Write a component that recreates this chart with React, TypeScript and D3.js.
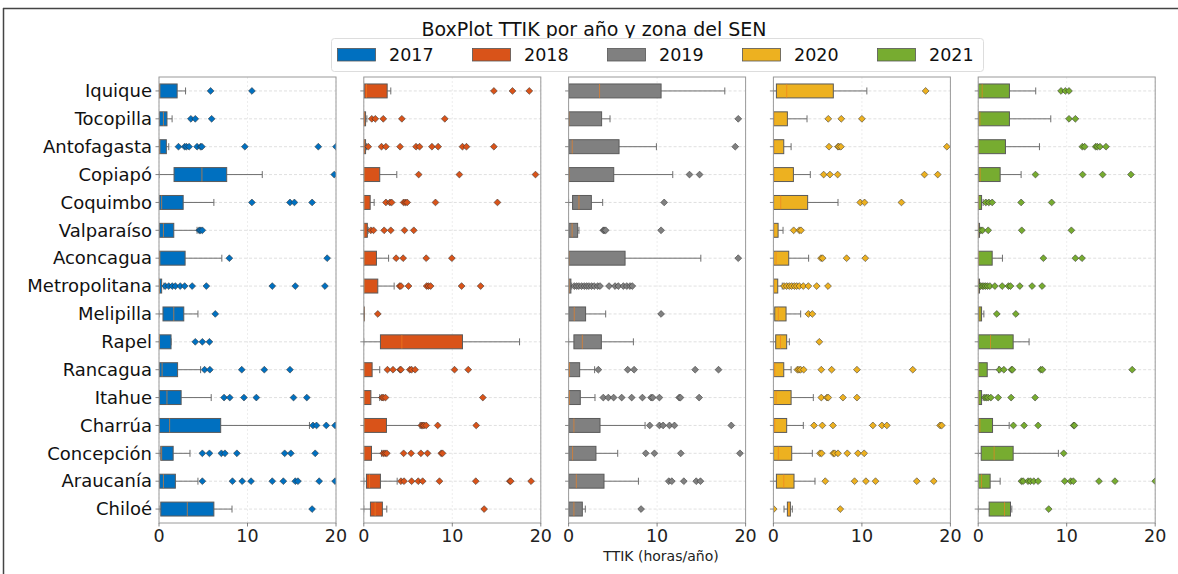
import React from "react";
import * as d3 from "d3";

const regions = ["Iquique","Tocopilla","Antofagasta","Copiapó","Coquimbo","Valparaíso","Aconcagua","Metropolitana","Melipilla","Rapel","Rancagua","Itahue","Charrúa","Concepción","Araucanía","Chiloé"];
const years = ["2017","2018","2019","2020","2021"];
const yearColors = ["#0070C0","#D95319","#808080","#EDB120","#77AC30"];
const xTicks = [0, 10, 20];

// [lowWhisker, q1, median, q3, highWhisker] per region
const stats2017 = [
  [0,0.05,0.1,2.05,3.0],[0,0.05,0.5,0.9,1.48],[0,0.05,0.1,0.83,1.1],[0,1.7,4.85,7.65,11.67],
  [0,0.05,0.3,2.73,6.2],[0,0.05,0.5,1.67,4.3],[0,0.05,0.1,2.95,7.1],[0,0,0.05,0.3,0.55],
  [0,0.45,1.67,2.8,4.4],[0,0,0.05,1.36,1.36],[0,0.05,0.35,2.1,4.7],[0,0.05,0.9,2.5,5.9],
  [0,0.05,1.2,6.97,17.0],[0,0.2,0.3,1.6,3.5],[0,0.05,0.5,1.85,4.4],[0,0.2,3.2,6.2,8.25]
];
const fliers2017 = [
  [5.83,10.5],[3.6,4.1,5.95],[2.2,2.9,3.1,3.4,4.3,4.7,4.85,9.7,18.0,20.0],[19.8],
  [10.5,14.8,15.3,17.3],[4.55,4.7,4.9],[7.95,19.0],[0.7,1.1,1.5,1.85,2.4,2.9,3.75,5.35,12.8,15.4,18.75],
  [6.36],[4.1,4.9,5.7],[5.15,5.75,9.35,11.9,14.8],[7.35,8.0,9.6,11.0,15.2,16.7],
  [17.4,17.8,18.9,19.9],[4.9,5.7,7.05,7.45,8.8,14.2,14.9,17.65],[4.9,8.3,9.4,10.4,12.8,14.05,15.4,15.7,18.1,19.9],[17.3]
];

const stats2018 = [
  [0,0.05,0.3,2.64,3.05],[0,0,0.05,0.2,0.35],[0,0,0.05,0.2,0.3],[0,0.02,0.05,1.8,3.73],
  [0,0.02,0.05,0.72,1.17],[0,0.02,0.05,0.4,0.5],[0,0.02,0.05,1.43,2.8],[0,0.02,0.05,1.58,3.43],
  [0,0,0,0,0],[0,1.88,4.3,11.15,17.6],[0,0.02,0.05,0.94,1.8],[0,0.02,0.05,0.8,1.8],
  [0,0.02,0.05,2.56,6.36],[0,0.02,0.05,0.87,2.0],[0,0.3,0.65,1.88,3.77],[0,0.75,1.28,2.1,2.6]
];
const fliers2018 = [
  [14.7,16.8,18.7],[0.9,1.3,2.2,4.3,9.15],[0.5,2.0,2.5,4.1,5.9,6.3,7.7,8.4,11.15,11.6,14.7],[6.2,10.8,19.4],
  [2.5,2.95,3.15,4.5,4.7,4.9,8.1,15.1],[0.8,1.1,2.3,3.05,4.6,5.65],[3.65,4.45,7.05,9.95],[4.05,4.2,5.05,7.1,7.3,7.55,11.05,13.2],
  [1.58],[],[2.67,3.3,4.1,4.2,5.2,5.4,5.8,10.25,11.8],[2.05,2.2,2.45,13.45],
  [6.5,6.65,6.8,7.05,8.35,12.7],[2.2,2.4,2.6,4.5,5.35,6.45,7.2,8.75,8.9],[4.2,4.55,5.4,6.15,6.65,8.55,12.65,16.5,16.6,18.9],[13.6]
];

const stats2019 = [
  [0,0.02,3.5,10.45,17.65],[0,0.02,0.03,3.73,4.68],[0,0.02,0.41,5.7,9.92],[0,0.02,0.03,5.1,11.77],
  [0,0.45,1.17,2.57,3.85],[0,0.02,0.4,1.02,1.17],[0,0.02,0.03,6.38,14.94],[0,0,0.05,0.26,0.35],
  [0,0.02,0.64,1.92,4.19],[0,0.6,1.55,3.7,7.32],[0,0.02,0.1,1.25,2.94],[0,0.02,0.1,1.32,2.98],
  [0,0.02,0.6,3.55,8.64],[0,0.02,0.45,3.09,5.55],[0,0.02,0.87,4.0,7.89],[0,0.02,0.6,1.55,1.89]
];
const fliers2019 = [
  [],[19.17],[18.83],[13.66,14.8],
  [10.8],[3.92,4.04,4.19,10.45],[19.17],[0.64,0.91,1.17,1.47,1.77,2.04,2.3,2.6,2.9,3.28,3.55,4.57,5.25,5.62,6.19,6.57,6.94,7.2],
  [10.45],[],[3.36,6.68,7.4,14.3,16.94],[3.92,4.49,5.09,6.0,7.13,8.34,9.32,9.51,10.26,12.49,12.64,14.75],
  [9.17,10.26,10.68,11.4,11.96,18.38],[8.72,9.7,12.68,19.36],[11.32,11.66,13.02,14.42,14.9],[8.19]
];

const stats2020 = [
  [0,0.34,1.5,6.77,10.56],[0,0.02,0.05,1.58,3.8],[0,0.02,0.05,1.17,2.0],[0,0.02,0.05,2.26,4.17],
  [0,0.02,0.83,3.87,7.3],[0,0.02,0.05,0.53,1.09],[0,0.02,0.3,1.73,3.98],[0,0.02,0.05,0.49,1.0],
  [0,0.15,0.56,1.43,3.08],[0,0.26,0.8,1.5,1.8],[0,0.02,0.15,1.17,2.0],[0,0.02,0.3,2.0,4.51],
  [0,0.02,0.15,1.5,3.38],[0,0.02,0.56,2.07,4.4],[0,0.34,1.17,2.33,4.7],[1.2,1.58,1.77,1.92,2.14]
];
const fliers2020 = [
  [17.2],[6.2,7.67,10.0],[6.28,7.3,7.4,7.63,19.6],[5.68,6.39,7.26,17.07,18.57],
  [9.81,10.3,14.47],[2.29,2.93,3.12],[5.38,5.56,8.27,10.38],[1.2,1.5,1.8,2.07,2.37,2.63,2.93,3.38,3.95,4.89,6.17],
  [3.95,4.4],[5.19],[2.71,2.89,3.08,3.42,5.41,6.58,9.44,15.75],[5.41,6.05,6.2,7.86,9.44],
  [4.59,5.53,6.73,11.24,12.26,12.82,18.83,19.02],[5.26,5.45,6.77,6.92,7.3,8.35,9.55,10.26],[5.86,9.17,10.45,11.54,16.2,18.12],[0.04,7.56]
];

const stats2021 = [
  [0,0.02,0.45,3.53,6.5],[0,0.02,0.19,3.53,8.2],[0,0.02,0.05,3.08,6.92],[0,0.02,0.22,2.48,4.85],
  [0,0.02,0.05,0.38,0.56],[0,0,0.02,0.15,0.2],[0,0.02,0.05,1.58,2.74],[0,0,0.02,0.15,0.2],
  [0,0.02,0.19,0.38,0.64],[0,0.02,1.39,3.95,5.75],[0,0.02,0.05,1.02,2.29],[0,0.02,0.05,0.38,0.56],
  [0,0.02,0.19,1.62,3.5],[0,0.34,1.8,3.95,9.06],[0,0.02,0.38,1.35,2.48],[0,1.24,2.97,3.65,3.8]
];
const fliers2021 = [
  [9.36,9.85,10.26],[10.26,10.98],[11.77,12.03,13.27,13.46,13.76,14.44],[6.47,11.8,14.06,17.26],
  [0.86,1.2,1.58,4.85,8.3],[0.3,0.49,1.13,4.92,10.53],[7.37,10.98,11.73],[0.26,0.45,0.64,0.83,1.05,1.32,1.88,2.71,3.42,3.65,4.7,6.09,7.22],
  [2.1,4.25],[],[2.4,2.9,3.76,3.87,7.07,7.26,17.4],[0.75,0.94,1.13,1.43,2.26,3.72,6.43],
  [3.98,5.19,6.77,10.79,10.87],[9.66],[4.89,5.08,5.64,5.9,6.28,6.77,9.77,10.45,10.75,13.65,15.45,20.0],[7.97]
];

const allStats = [stats2017, stats2018, stats2019, stats2020, stats2021];
const allFliers = [fliers2017, fliers2018, fliers2019, fliers2020, fliers2021];

const W = 1178, H = 574;
const FONT = "DejaVu Sans, sans-serif";
const panelLeft0 = 159, panelStep = 204.8, panelW = 177;
const top = 77, bottom = 523;

export default function App() {
  const y = d3.scaleLinear().domain([0.5, 16.5]).range([top, bottom]);
  const half = (y(1.25) - y(1)) ;
  const capHalf = half / 2;
  const diamond = d3.symbol().type(d3.symbolDiamond2).size(30)();

  return (
    <svg width={W} height={H} style={{ position: "absolute", left: 0, top: 0, background: "#fff" }} fontFamily={FONT}>
      <rect x={0} y={0} width={W} height={H} fill="#fff" />
      <line x1={3} x2={W} y1={8.5} y2={8.5} stroke="#444" strokeWidth={1.5} />
      <line x1={3.5} x2={3.5} y1={8} y2={H} stroke="#444" strokeWidth={1.5} />
      <text x={594} y={36} textAnchor="middle" fontSize={19} fill="#111">BoxPlot TTIK por año y zona del SEN</text>
      <rect x={331.5} y={38.5} width={652} height={33} rx={3} fill="#fff" stroke="#ddd" />
      {years.map((yr, i) => (
        <g key={yr} transform={`translate(${337 + i * 135},0)`}>
          <rect x={0.5} y={48.5} width={38} height={12.5} fill={yearColors[i]} stroke="#555" strokeWidth={0.8} />
          <text x={52} y={61} fontSize={17.5} fill="#111">{yr}</text>
        </g>
      ))}
      <defs>
        {years.map((yr, p) => (
          <clipPath id={`clip${p}`} key={yr}>
            <rect x={panelLeft0 + p * panelStep} y={top} width={panelW} height={bottom - top} />
          </clipPath>
        ))}
      </defs>
      {years.map((yr, p) => {
        const x0 = panelLeft0 + p * panelStep;
        const x = d3.scaleLinear().domain([0, 20]).range([x0, x0 + panelW]);
        const color = yearColors[p];
        const stats = allStats[p];
        const fl = allFliers[p];
        return (
          <g key={yr}>
            {regions.map((r, i) => (
              <line key={r} x1={x0} x2={x0 + panelW} y1={y(i + 1)} y2={y(i + 1)} stroke="#d8d8d8" strokeWidth={0.8} strokeDasharray="3,2" />
            ))}
            {xTicks.map(t => (
              <line key={t} x1={x(t)} x2={x(t)} y1={top} y2={bottom} stroke="#e8e8e8" strokeWidth={0.8} strokeDasharray="2,2" />
            ))}
            <g clipPath={`url(#clip${p})`}>
              {stats.map((s, i) => {
                const cy = y(i + 1);
                const [lo, q1, med, q3, hi] = s;
                return (
                  <g key={i}>
                    <line x1={x(lo)} x2={x(q1)} y1={cy} y2={cy} stroke="#6e6e6e" strokeWidth={1} />
                    <line x1={x(q3)} x2={x(hi)} y1={cy} y2={cy} stroke="#6e6e6e" strokeWidth={1} />
                    <line x1={x(lo)} x2={x(lo)} y1={cy - capHalf} y2={cy + capHalf} stroke="#6e6e6e" strokeWidth={1} />
                    <line x1={x(hi)} x2={x(hi)} y1={cy - capHalf} y2={cy + capHalf} stroke="#6e6e6e" strokeWidth={1} />
                    <rect x={x(q1)} y={cy - half} width={Math.max(x(q3) - x(q1), 0.5)} height={2 * half} fill={color} stroke="#5a5a5a" strokeWidth={1} />
                    <line x1={x(med)} x2={x(med)} y1={cy - half} y2={cy + half} stroke="#f07f20" strokeOpacity={0.65} strokeWidth={1} />
                    {fl[i].map((v, k) => (
                      <path key={k} d={diamond} transform={`translate(${x(v)},${cy})`} fill={color} stroke="#2a2a2a" strokeOpacity={0.75} strokeWidth={0.7} />
                    ))}
                  </g>
                );
              })}
            </g>
            <rect x={x0} y={top} width={panelW} height={bottom - top} fill="none" stroke="#9a9a9a" strokeWidth={1} />
            {regions.map((r, i) => (
              <line key={r} x1={x0 - 3.5} x2={x0} y1={y(i + 1)} y2={y(i + 1)} stroke="#666" strokeWidth={0.8} />
            ))}
            {xTicks.map(t => (
              <g key={t}>
                <line x1={x(t)} x2={x(t)} y1={bottom} y2={bottom + 3.5} stroke="#666" strokeWidth={0.8} />
                <text x={x(t)} y={542} textAnchor="middle" fontSize={17.5} fill="#222">{t}</text>
              </g>
            ))}
          </g>
        );
      })}
      {regions.map((r, i) => (
        <text key={r} x={152} y={y(i + 1)} dy="0.35em" textAnchor="end" fontSize={18} fill="#111">{r}</text>
      ))}
      <text x={661} y={561} textAnchor="middle" fontSize={14} fill="#222">TTIK (horas/año)</text>
    </svg>
  );
}
